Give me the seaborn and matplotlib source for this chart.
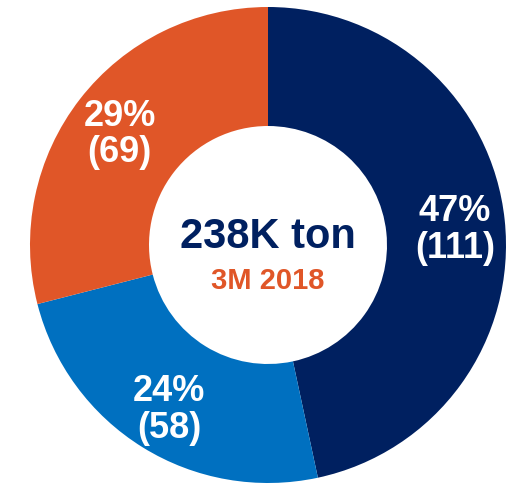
import matplotlib
matplotlib.use("Agg")
from matplotlib import pyplot as plt
import numpy as np
import seaborn as sns

# donut values (thousand ton), clockwise from top
segments = ['navy', 'blue', 'orange']
values = [111, 58, 69]
colors = ['#002060', '#0070C0', '#E05628']

total_label = '238K ton'
period_label = '3M 2018'

sns.set_theme(style="white")
plt.rcParams['font.family'] = ['Liberation Sans', 'DejaVu Sans']

fig = plt.figure(figsize=(5.13, 4.9), dpi=100)
ax = fig.add_axes([0, 0, 1, 1])

total = sum(values)


def fmt(pct):
    val = int(round(pct * total / 100.0))
    return '{:.0f}%\n({})'.format(pct, val)


wedges = ax.pie(values, colors=colors, startangle=90, counterclock=False,
                wedgeprops=dict(width=0.5, linewidth=0), radius=1.0)[0]

# percent labels in the middle of each ring segment
for w, v in zip(wedges, values):
    ang = np.deg2rad((w.theta1 + w.theta2) / 2.0)
    r = 0.79
    pct = 100.0 * v / total
    ax.text(r * np.cos(ang), r * np.sin(ang) - 0.02, fmt(pct), ha='center', va='center',
            color='white', fontsize=26, fontweight='bold', linespacing=1.07)

ax.text(0, 0.034, total_label, ha='center', va='center', color='#002060',
        fontsize=30, fontweight='bold')
ax.text(0, -0.151, period_label, ha='center', va='center', color='#E05628',
        fontsize=21, fontweight='bold')

ax.set_aspect('auto')
ax.set_xlim(-268 / 238.0, 245 / 238.0)
ax.set_ylim(-245 / 238.0, 245 / 238.0)
ax.axis('off')

fig.savefig('out.png', dpi=100)
